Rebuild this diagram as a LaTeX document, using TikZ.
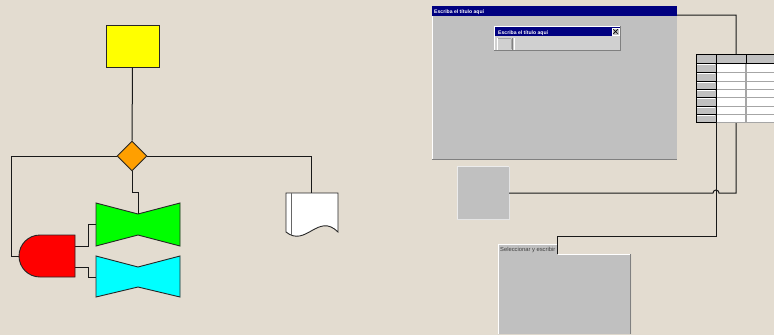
\documentclass[tikz,border=0pt]{standalone}
\usepackage{fontspec}
\setmainfont{Liberation Sans}
\usetikzlibrary{shapes.geometric}
\definecolor{bg}{HTML}{E3DCD0}
\definecolor{winG}{HTML}{C0C0C0}
\definecolor{dlgG}{HTML}{D0D0D0}
\definecolor{navyT}{HTML}{000080}
\definecolor{orangeD}{HTML}{FF9F00}
\definecolor{edgeD}{HTML}{808080}
\definecolor{yelF}{HTML}{FFFF00}
\definecolor{grnF}{HTML}{00FF00}
\definecolor{cyaF}{HTML}{00FFFF}
\definecolor{redF}{HTML}{FF0000}
\begin{document}
\begin{tikzpicture}[x=1pt,y=-1pt,
  conn/.style={draw=black!90,line width=1pt},
  shp/.style={draw=black!85,line width=0.9pt},
  ttl/.style={font=\fontsize{5.1}{6}\selectfont\bfseries,text=white,anchor=base west,inner sep=0pt},
  lbl/.style={font=\fontsize{5.8}{7}\selectfont,text=black!75,anchor=base west,inner sep=0pt},
  box/.style={inner sep=0pt,anchor=north west}]
\fill[bg] (0,0) rectangle (774,335);
\useasboundingbox (0,0) rectangle (774,335);

% ---------- left flowchart ----------
\node[shp,fill=yelF,minimum width=53pt,minimum height=42pt,inner sep=0pt] (yel) at (132.5,46) {};
\coordinate (gw) at (19,256);
\coordinate (doctop) at (311,193);
\coordinate (gtop) at (138,214);
\coordinate (go1) at (75,246);
\coordinate (go2) at (75,267);
\coordinate (gl) at (96,224.5);
\coordinate (cl) at (96,277);

\node[shp,diamond,fill=orangeD,minimum width=30pt,minimum height=30pt,inner sep=0pt] (dec) at (132,156) {};
\draw[conn] (yel.south) -- (dec.north);
\draw[conn] (dec.west) -| (11,256) -- (gw);
\draw[conn] (dec.east) -| (doctop);
\draw[conn] (dec.south) -- ++(0,21) -| (gtop);
\draw[conn] (go1) -- (88,246) |- (gl);
\draw[conn] (go2) -- (88,267) |- (cl);

% AND gate
\draw[shp,fill=redF] (75,235) -- (40,235) arc[start angle=90,end angle=270,radius=21pt] -- (75,277) -- cycle;
% bowties
\draw[shp,fill=grnF] (96,203) -- (138,214) -- (180,203) -- (180,246) -- (138,235) -- (96,246) -- cycle;
\draw[shp,fill=cyaF] (96,256) -- (138,267) -- (180,256) -- (180,297) -- (138,287) -- (96,297) -- cycle;
% document
\draw[shp,fill=white] (286,232) -- (286,193) -- (338,193) -- (338,232) .. controls (318,212) and (306,248) .. (286,232) -- cycle;
\draw[black!60,line width=0.8pt] (291,193) -- (291,234.5);

% ---------- right side ----------
% main window
\node[box,fill=winG,minimum width=245pt,minimum height=154pt] (mainwin) at (432,6) {};
\fill[navyT] (432,6) rectangle (677,16);
\draw[white,line width=0.8pt] (432.4,16) -- (432.4,160);
\draw[edgeD,line width=0.9pt] (432,159.6) -- (677,159.6);
\node[ttl] (mt) at (434,13.8) {Escriba el título aquí};
\coordinate (mwr) at (677,15);

% inner dialog
\node[box,fill=dlgG,minimum width=127pt,minimum height=25pt] (dlg) at (494,26) {};
\fill[navyT] (495,27) rectangle (620,36);
\draw[white,line width=0.6pt] (494,26.3) -- (621,26.3) (494.3,26) -- (494.3,51);
\draw[edgeD,line width=0.9pt] (494,50.6) -- (621,50.6) (620.6,26) -- (620.6,51);
\node[ttl] (dt) at (498,34) {Escriba el título aquí};
\node[box,fill=winG,draw=white,line width=0.4pt,minimum width=7pt,minimum height=7pt] (cls) at (612,28) {};
\draw[black,line width=0.7pt] (613.3,29.3) -- (617.7,33.7) (613.3,33.7) -- (617.7,29.3);
\draw[white,line width=0.8pt] (497,38) -- (497,50);
\draw[edgeD!70,line width=0.5pt] (498,38.5) -- (511,38.5) (511,38.5) -- (511,49);
\draw[edgeD,line width=0.6pt] (512.5,38) -- (512.5,50);
\draw[white,line width=0.6pt] (514.5,38) -- (514.5,50);

% small square
\node[fill=winG,minimum width=52pt,minimum height=53pt,inner sep=0pt] (sq) at (483,193) {};
\draw[white!85!gray,line width=0.8pt] (457.4,219.6) -- (457.4,166.8) -- (509,166.8);
\draw[white!80!gray,line width=0.8pt] (457,219.6) -- (509.4,219.6) -- (509.4,167);

% connector main window -> square (with jump)
\draw[conn] (mwr) -- (736,15) -- (736,193) -- (719,193) arc[start angle=0,end angle=180,radius=3pt] -- (sq.east);

% table
\node[box,fill=white,minimum width=78pt,minimum height=68pt] (tbl) at (696,54) {};
\fill[winG] (696,54) rectangle (716,122);
\fill[winG] (716,54) rectangle (774,63);
\foreach \yy in {72,81,89,97,106,114,122}
  \draw[gray!70,line width=0.8pt] (716,\yy) -- (774,\yy);
\draw[gray!70,line width=1.3pt] (746,63) -- (746,122);
\foreach \yy in {63,72,81,89,97,106,114,122}
  \draw[black,line width=0.8pt] (696,\yy) -- (716,\yy);
\foreach \yy in {64,73,82,90,98,107,115}
  \draw[white,line width=0.4pt] (697,\yy) -- (715,\yy);
\draw[black,line width=0.8pt] (696,54) -- (774,54) (716,63) -- (774,63) (746,54) -- (746,63)
  (696,54) -- (696,122) (716,54) -- (716,122);

% bottom box
\fill[winG] (498,334) -- (498,244) -- (557,244) -- (557,254) -- (631,254) -- (631,334) -- cycle;
\draw[white,line width=0.7pt] (498.3,334) -- (498.3,244.3) -- (557,244.3);
\draw[white,line width=0.7pt] (558,254.3) -- (631,254.3);
\draw[edgeD,line width=0.9pt] (630.6,254) -- (630.6,334);
\node[lbl] (sel) at (500,251.8) {Seleccionar y escribir};
\coordinate (selin) at (557.5,254);

% connector table -> bottom box
\coordinate (tb) at (716,122);
\draw[conn] (tb) -- (716,236) -| (selin);
\end{tikzpicture}
\end{document}
